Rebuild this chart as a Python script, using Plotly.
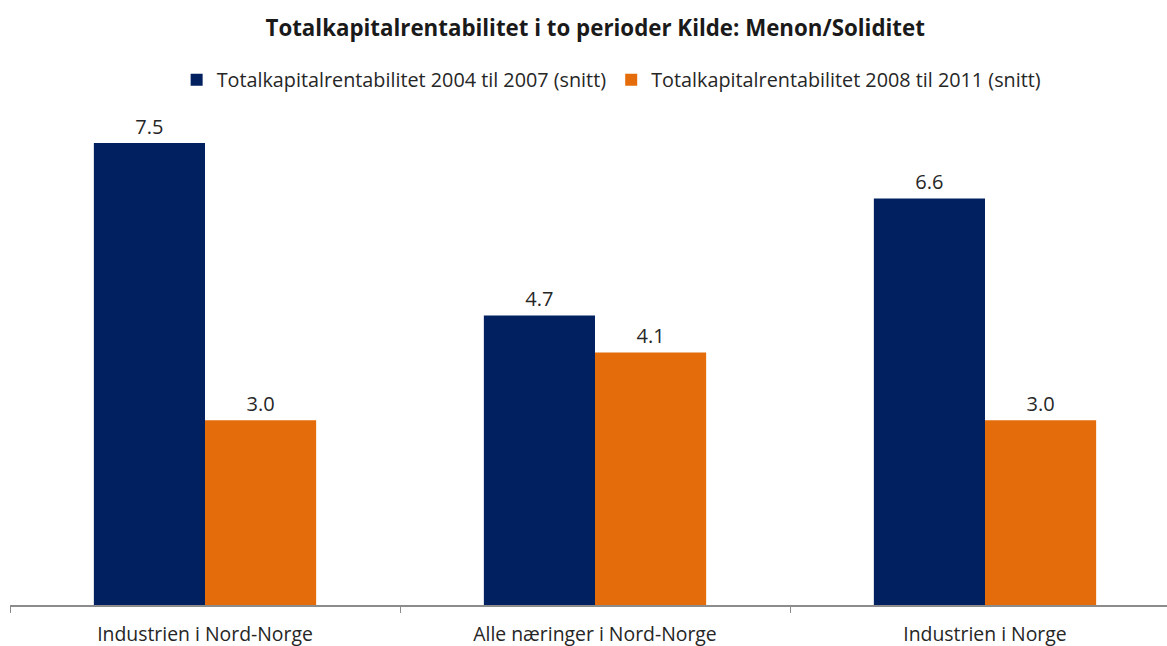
import plotly.graph_objects as go

categories = ["Industrien i Nord-Norge", "Alle næringer i Nord-Norge", "Industrien i Norge"]
periode_2004_2007 = [7.5, 4.7, 6.6]
periode_2008_2011 = [3.0, 4.1, 3.0]

FONT = "Open Sans, Noto Sans, sans-serif"

fig = go.Figure()
fig.add_trace(go.Bar(
    x=categories, y=periode_2004_2007,
    name="Totalkapitalrentabilitet 2004 til 2007 (snitt)",
    marker=dict(color="#002060", line=dict(width=0)),
    text=[f"{v:.1f}" for v in periode_2004_2007],
    textposition="outside", cliponaxis=False,
    textfont=dict(size=20, color="#262626", family=FONT),
))
fig.add_trace(go.Bar(
    x=categories, y=periode_2008_2011,
    name="Totalkapitalrentabilitet 2008 til 2011 (snitt)",
    marker=dict(color="#E46C0A", line=dict(width=0)),
    text=[f"{v:.1f}" for v in periode_2008_2011],
    textposition="outside", cliponaxis=False,
    textfont=dict(size=20, color="#262626", family=FONT),
))

fig.update_layout(
    width=1167, height=646,
    paper_bgcolor="white", plot_bgcolor="white",
    barmode="group", bargap=0.43, bargroupgap=0,
    margin=dict(l=10, r=0, t=110, b=41, autoexpand=False),
    font=dict(family=FONT, size=18, color="#262626"),
    title=dict(
        text="<b>Totalkapitalrentabilitet i to perioder Kilde: Menon/Soliditet</b>",
        x=0.51, xanchor="center", y=0.957, yanchor="middle",
        font=dict(size=22.3, color="#1a1a1a", family=FONT),
    ),
    legend=dict(
        orientation="h", x=0.52, xanchor="center", y=1.061, yanchor="middle",
        font=dict(size=19.8, color="#262626"), itemwidth=30,
        traceorder="normal", tracegroupgap=0,
    ),
)
fig.update_xaxes(
    range=[-0.5, 2.5 - 13 / 390], automargin=False,
    showline=True, linecolor="#8c8c8c", linewidth=1.5,
    ticks="outside", tickson="boundaries", ticklen=6, tickcolor="#8c8c8c",
    tickfont=dict(size=19.4, color="#262626"), ticklabelstandoff=11,
    showgrid=False,
)
fig.update_yaxes(
    range=[0, 8.035], visible=False, showgrid=False, zeroline=False,
    automargin=False,
)

fig.write_html(
    "out.html",
    config={"displayModeBar": False},
    post_script="document.body.style.margin='0';",
)
